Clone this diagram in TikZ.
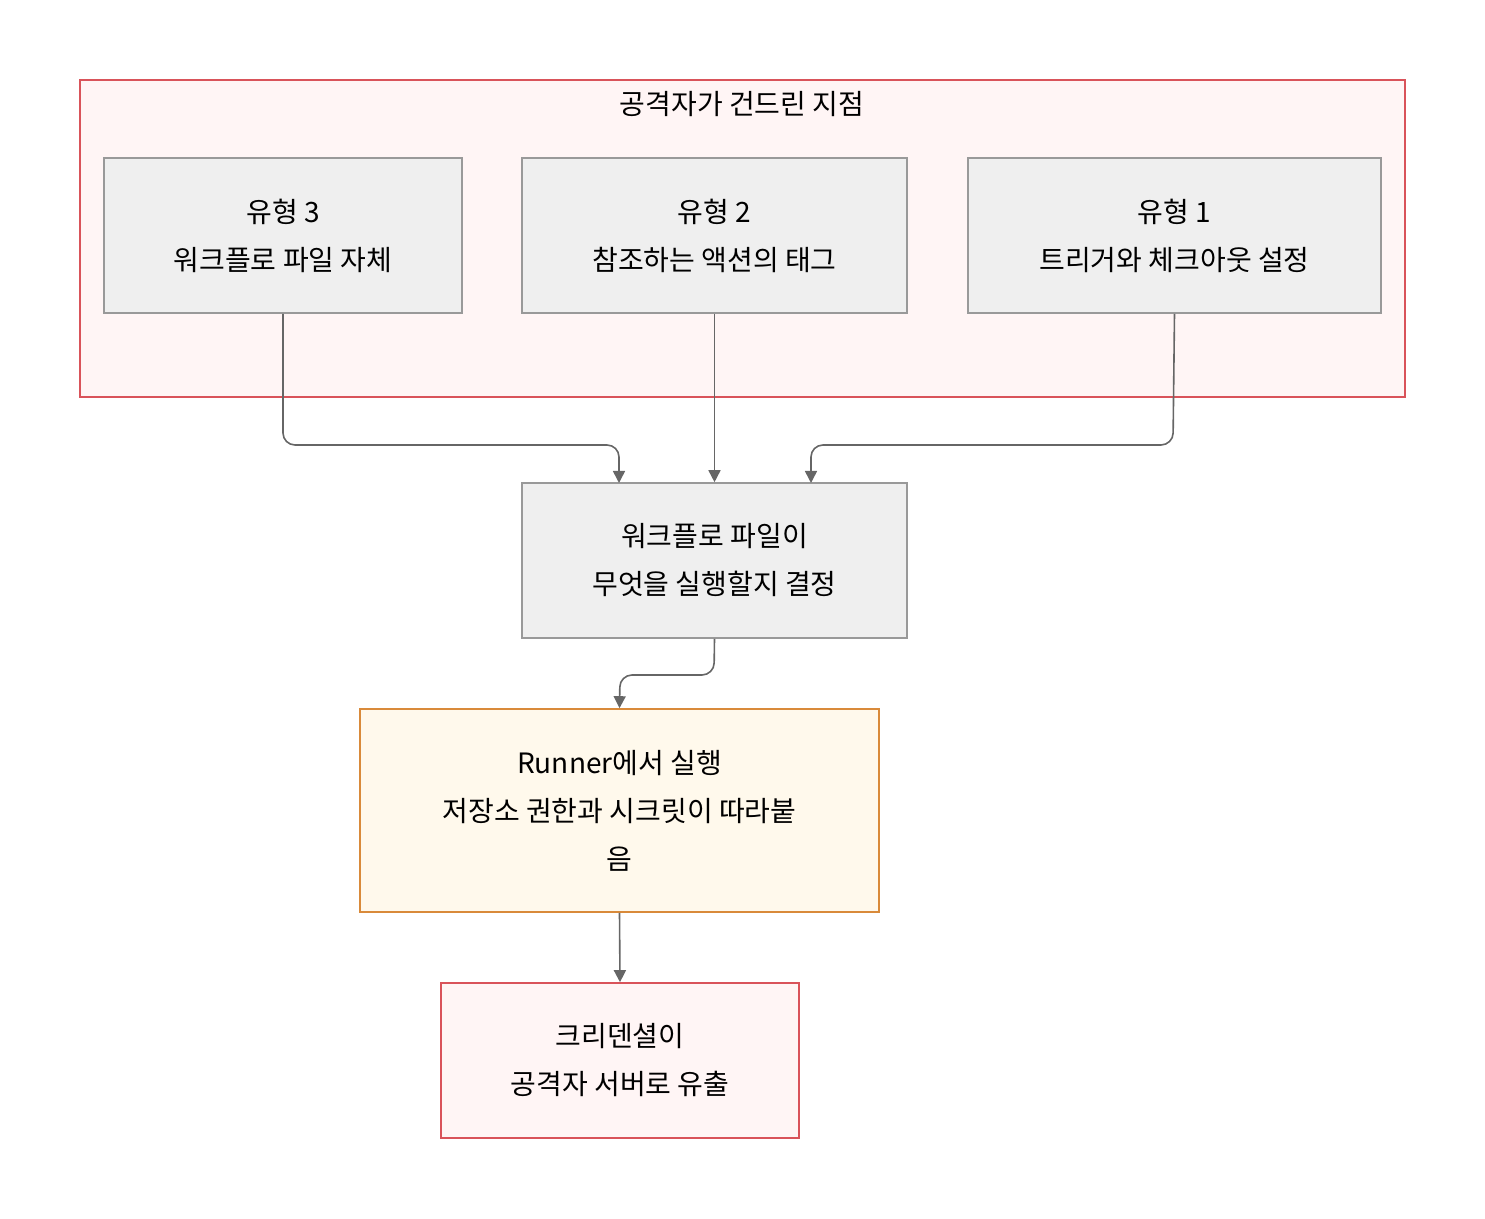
\documentclass[tikz,border=0pt]{standalone}
\usepackage{fontspec}
\setmainfont{Noto Sans CJK KR}
\usetikzlibrary{positioning,arrows.meta}
\definecolor{zonefill}{HTML}{FFF5F5}
\definecolor{zoneline}{HTML}{D9535A}
\definecolor{boxfill}{HTML}{EFEFEF}
\definecolor{boxline}{HTML}{999999}
\definecolor{runfill}{HTML}{FFF9EC}
\definecolor{runline}{HTML}{D98A3A}
\definecolor{edgegray}{HTML}{666666}
\begin{document}
\begin{tikzpicture}[
    x=0.5pt, y=-0.5pt, >={Triangle[length=6pt,width=6pt]},
    every node/.style={font=\fontsize{14}{24}\selectfont, align=center},
    stage/.style={draw=boxline, fill=boxfill, line width=0.8pt, inner sep=0pt},
    flow/.style={->, draw=edgegray, line width=0.8pt, rounded corners=6pt}
]
\useasboundingbox (0,0) rectangle (1485,1219);
% cluster
\node[draw=zoneline, fill=zonefill, line width=0.8pt, minimum width=662.5pt, minimum height=158.5pt,
      inner sep=0pt] (zone) at (742.5,238.5) {};
\node (title) at (742,104) {공격자가 건드린 지점};
% types
\node[stage, minimum width=179pt, minimum height=77.5pt] (t3) at (283,235.5) {유형 3\\워크플로 파일 자체};
\node[stage, minimum width=192.5pt, minimum height=77.5pt] (t2) at (714.5,235.5) {유형 2\\참조하는 액션의 태그};
\node[stage, minimum width=206.5pt, minimum height=77.5pt] (t1) at (1174.5,235.5) {유형 1\\트리거와 체크아웃 설정};
% chain
\node[stage, minimum width=192.5pt, minimum height=77.5pt] (decide) at (714.5,560.5) {워크플로 파일이\\무엇을 실행할지 결정};
\node[stage, draw=runline, fill=runfill, minimum width=259.5pt, minimum height=101.5pt] (runner) at (619.5,810.5)
     {Runner에서 실행\\저장소 권한과 시크릿이 따라붙\\음};
\node[stage, draw=zoneline, fill=zonefill, minimum width=179pt, minimum height=77.5pt] (leak) at (620,1060.5)
     {크리덴셜이\\공격자 서버로 유출};
% edges
\coordinate (in3) at (619,483);
\coordinate (in1) at (811,483);
\draw[flow] (t3.south) -- (283,445) -- (619,445) -- (in3);
\draw[flow] (t2.south) -- (decide.north);
\draw[flow] (t1.south) -- (1173,445) -- (811,445) -- (in1);
\draw[flow] (decide.south) -- (714,675) -- (620,675) -- (runner.north);
\draw[flow] (runner.south) -- (leak.north);
\end{tikzpicture}
\end{document}
